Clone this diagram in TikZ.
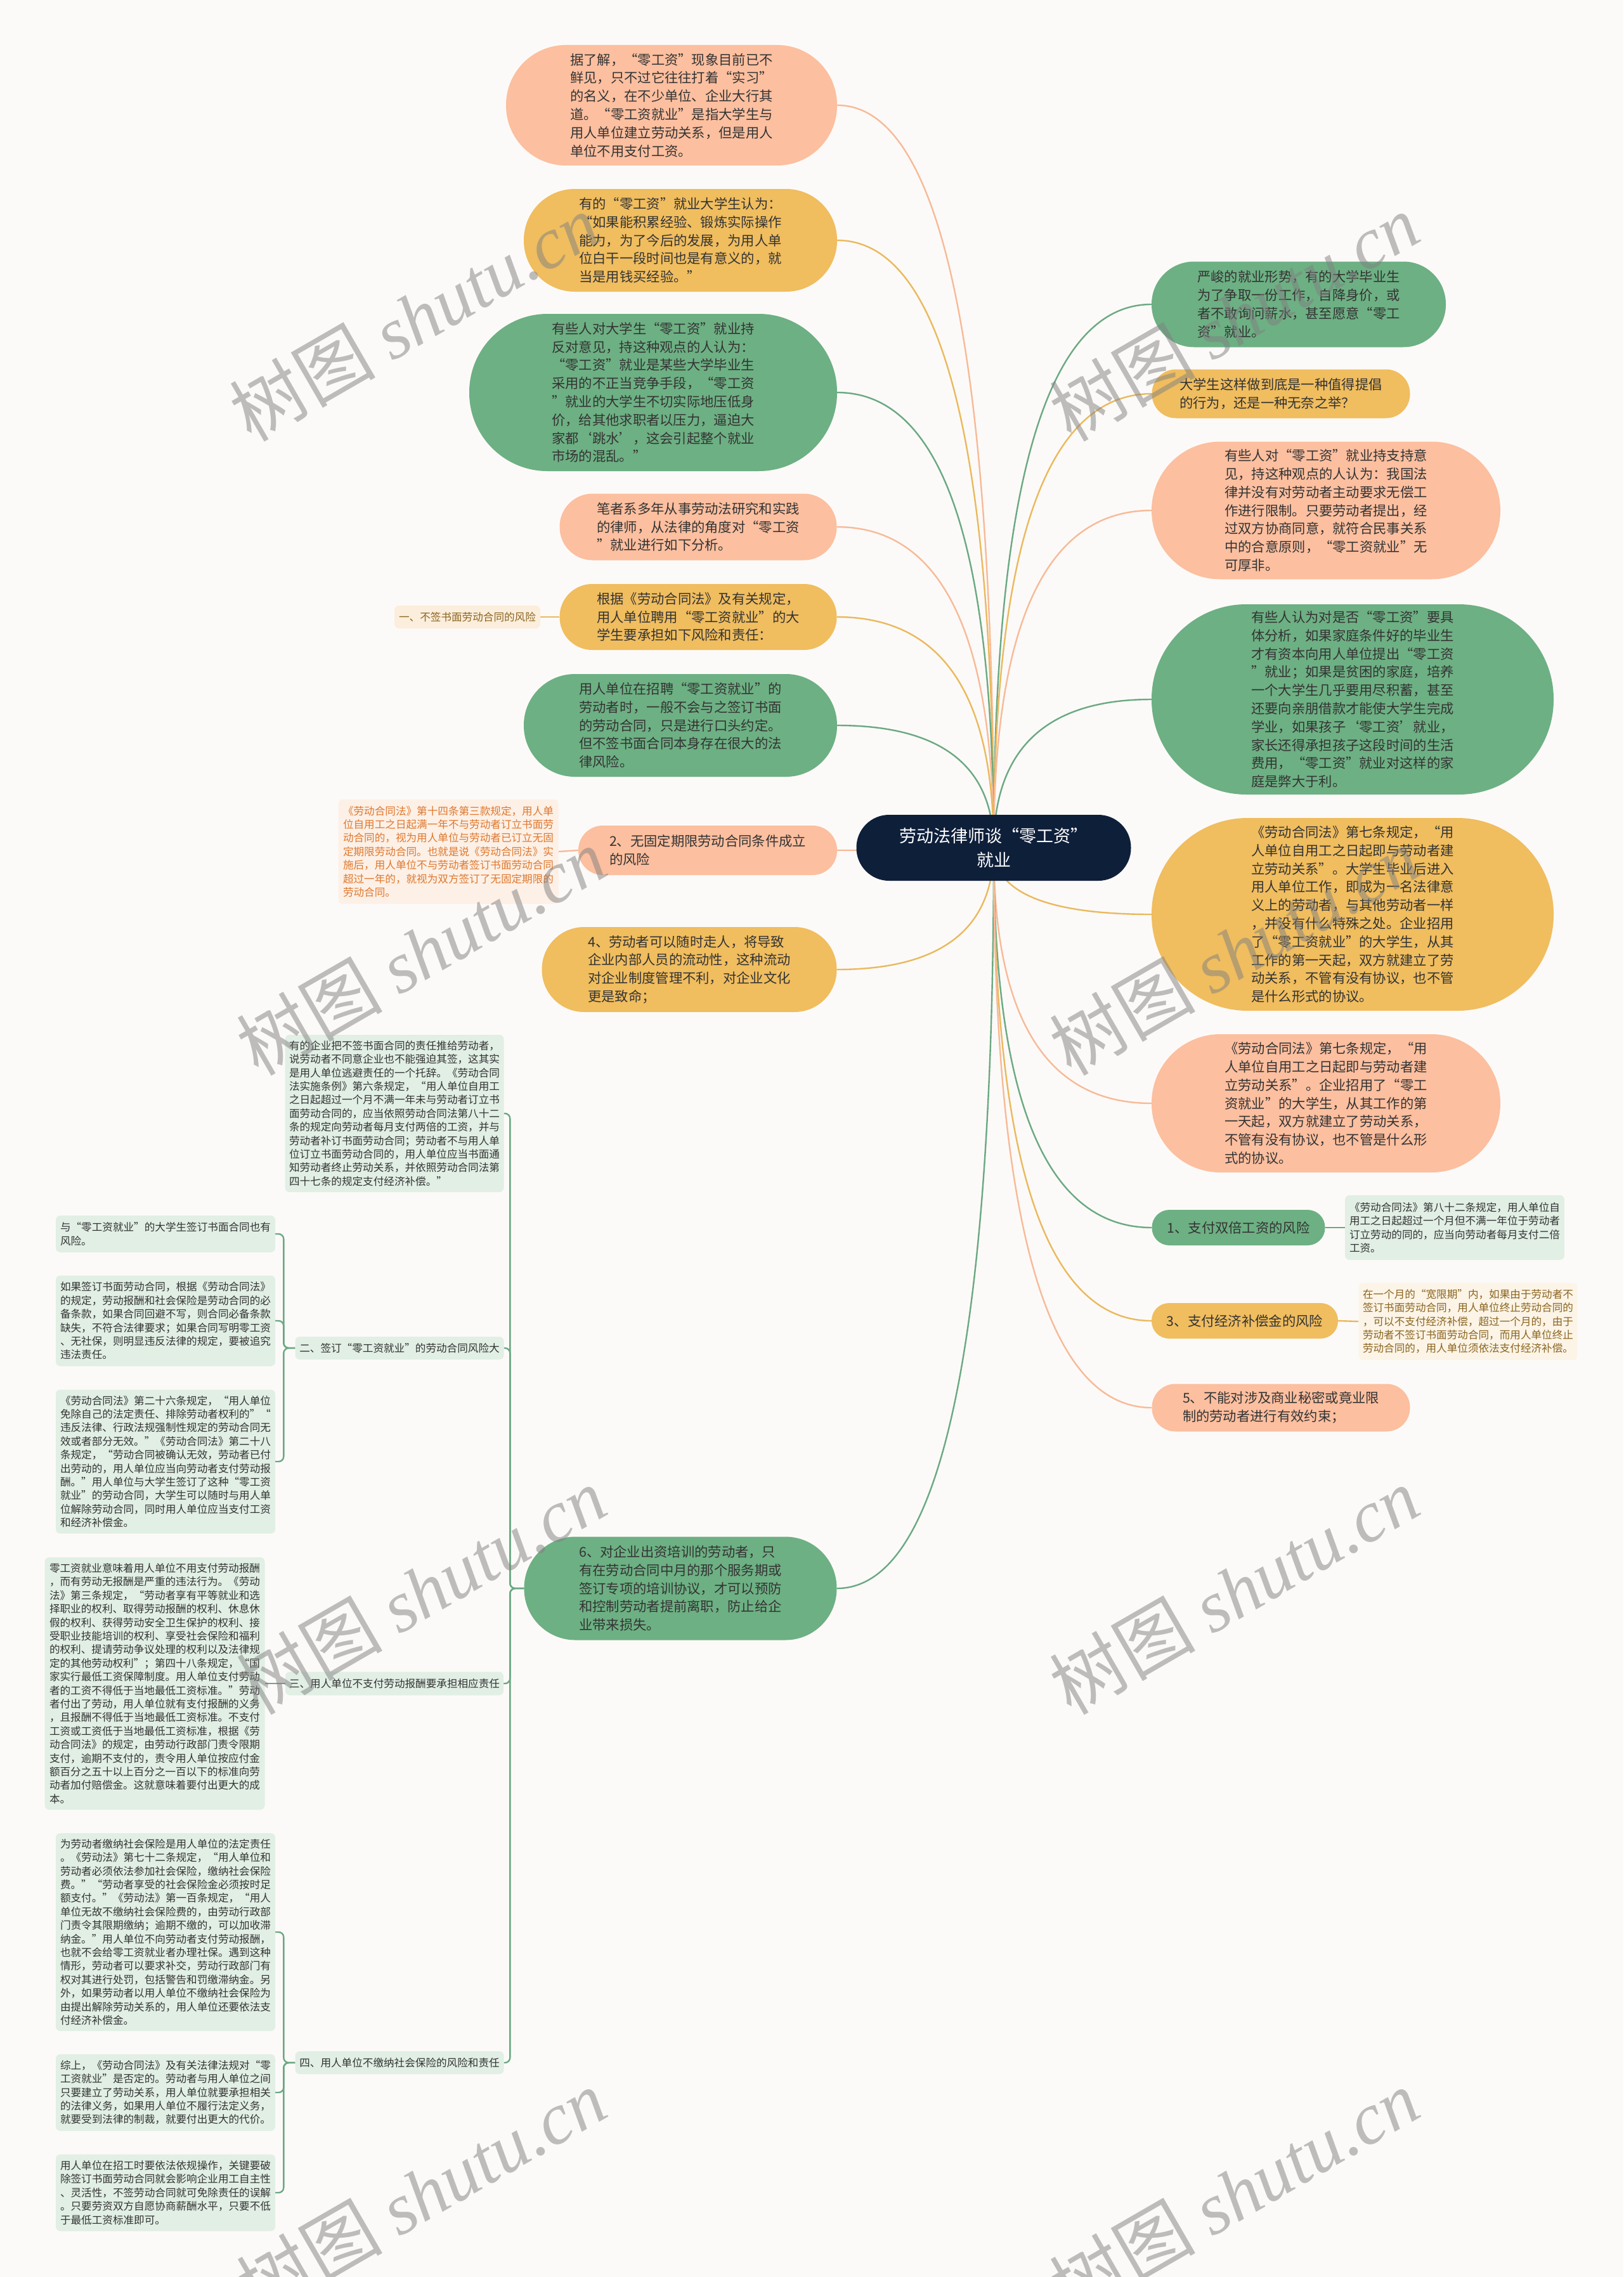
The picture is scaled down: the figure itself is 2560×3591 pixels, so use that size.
\documentclass[tikz,border=0pt]{standalone}
\usepackage{fontspec}
\setmainfont{Noto Sans CJK SC}
\newfontfamily\wmlatin{Liberation Serif}
\usetikzlibrary{calc,backgrounds}

\definecolor{bgpaper}{HTML}{FCFAF8}
\definecolor{salmon}{HTML}{FCBF9F}
\definecolor{mustard}{HTML}{F0BD5F}
\definecolor{sage}{HTML}{6DB083}
\definecolor{navy}{HTML}{0E1F3A}
\definecolor{mint}{HTML}{E1EFE5}
\definecolor{peach}{HTML}{FCEEDC}
\definecolor{blush}{HTML}{FDF0E6}
\definecolor{cream}{HTML}{FCF4E6}
\definecolor{salmonline}{HTML}{F7BA98}
\definecolor{mustardline}{HTML}{EAB95E}
\definecolor{sageline}{HTML}{6AA982}
\definecolor{inkgray}{HTML}{333333}
\definecolor{inkbrown}{HTML}{8A6420}
\definecolor{inkorange}{HTML}{DE782E}

\newcommand\bubblefont{\fontsize{21.3}{28.8}\selectfont}
\newcommand\notefont{\fontsize{16.6}{21.4}\selectfont}
\newcommand\centerfont{\fontsize{27}{38}\selectfont}

\tikzset{
  bubble/.style 2 args={fill=#1, minimum height=#2, rounded corners=#2/2-0.5, inner sep=0pt, align=left, text=inkgray, font=\bubblefont},
  note/.style={fill=#1, rounded corners=7pt, inner sep=0pt, align=left, text=inkgray, font=\notefont},
  link/.style={draw=#1, line width=2.4pt},
  watermark/.style={text=black!50, opacity=0.5, rotate=30, font=\fontsize{115}{115}\selectfont},
}

\begin{document}
\begin{tikzpicture}[x=1pt, y=-1pt]
    \useasboundingbox (0,0) rectangle (2560,3591);

    % Central topic
    \node[fill=navy, text=white, font=\centerfont, align=center, minimum width=433, minimum height=104, rounded corners=51.5pt, inner sep=0pt] (root) at (1567,1337) {劳动法律师谈“零工资”\\就业};

    % Left branches
    \node[bubble={salmon}{190}, minimum width=522] (l1) at (1059,166) {据了解，“零工资”现象目前已不\\鲜见，只不过它往往打着“实习”\\的名义，在不少单位、企业大行其\\道。“零工资就业”是指大学生与\\用人单位建立劳动关系，但是用人\\单位不用支付工资。};
    \node[bubble={mustard}{162}, minimum width=494] (l2) at (1073,379) {有的“零工资”就业大学生认为：\\“如果能积累经验、锻炼实际操作\\能力，为了今后的发展，为用人单\\位白干一段时间也是有意义的，就\\当是用钱买经验。”};
    \node[bubble={sage}{248}, minimum width=580] (l3) at (1030,619) {有些人对大学生“零工资”就业持\\反对意见，持这种观点的人认为：\\“零工资”就业是某些大学毕业生\\采用的不正当竞争手段，“零工资\\”就业的大学生不切实际地压低身\\价，给其他求职者以压力，逼迫大\\家都‘跳水’，这会引起整个就业\\市场的混乱。”};
    \node[bubble={salmon}{105}, minimum width=437] (l4) at (1101,831) {笔者系多年从事劳动法研究和实践\\的律师，从法律的角度对“零工资\\”就业进行如下分析。};
    \node[bubble={mustard}{104}, minimum width=437] (l5) at (1101,973) {根据《劳动合同法》及有关规定，\\用人单位聘用“零工资就业”的大\\学生要承担如下风险和责任：};
    \node[bubble={sage}{162}, minimum width=494] (l6) at (1073,1144) {用人单位在招聘“零工资就业”的\\劳动者时，一般不会与之签订书面\\的劳动合同，只是进行口头约定。\\但不签书面合同本身存在很大的法\\律风险。};
    \node[bubble={salmon}{78}, minimum width=408] (l7) at (1116,1341) {2、无固定期限劳动合同条件成立\\的风险};
    \node[bubble={mustard}{134}, minimum width=465] (l8) at (1087,1529) {4、劳动者可以随时走人，将导致\\企业内部人员的流动性，这种流动\\对企业制度管理不利，对企业文化\\更是致命；};
    \node[bubble={sage}{163}, minimum width=493] (l9) at (1073,2505) {6、对企业出资培训的劳动者，只\\有在劳动合同中月的那个服务期或\\签订专项的培训协议，才可以预防\\和控制劳动者提前离职，防止给企\\业带来损失。};

    % Right branches
    \node[bubble={sage}{135}, minimum width=464] (r1) at (2048,480) {严峻的就业形势，有的大学毕业生\\为了争取一份工作，自降身价，或\\者不敢询问薪水，甚至愿意“零工\\资”就业。};
    \node[bubble={mustard}{77}, minimum width=407] (r2) at (2020,621) {大学生这样做到底是一种值得提倡\\的行为，还是一种无奈之举？};
    \node[bubble={salmon}{217}, minimum width=550] (r3) at (2091,805) {有些人对“零工资”就业持支持意\\见，持这种观点的人认为：我国法\\律并没有对劳动者主动要求无偿工\\作进行限制。只要劳动者提出，经\\过双方协商同意，就符合民事关系\\中的合意原则，“零工资就业”无\\可厚非。};
    \node[bubble={sage}{300}, minimum width=634] (r4) at (2133,1103) {有些人认为对是否“零工资”要具\\体分析，如果家庭条件好的毕业生\\才有资本向用人单位提出“零工资\\”就业；如果是贫困的家庭，培养\\一个大学生几乎要用尽积蓄，甚至\\还要向亲朋借款才能使大学生完成\\学业，如果孩子‘零工资’就业，\\家长还得承担孩子这段时间的生活\\费用，“零工资”就业对这样的家\\庭是弊大于利。};
    \node[bubble={mustard}{304}, minimum width=634] (r5) at (2133,1442) {《劳动合同法》第七条规定，“用\\人单位自用工之日起即与劳动者建\\立劳动关系”。大学生毕业后进入\\用人单位工作，即成为一名法律意\\义上的劳动者，与其他劳动者一样\\，并没有什么特殊之处。企业招用\\了“零工资就业”的大学生，从其\\工作的第一天起，双方就建立了劳\\动关系，不管有没有协议，也不管\\是什么形式的协议。};
    \node[bubble={salmon}{218}, minimum width=550] (r6) at (2091,1740) {《劳动合同法》第七条规定，“用\\人单位自用工之日起即与劳动者建\\立劳动关系”。企业招用了“零工\\资就业”的大学生，从其工作的第\\一天起，双方就建立了劳动关系，\\不管有没有协议，也不管是什么形\\式的协议。};
    \node[bubble={sage}{56}, minimum width=273] (r7) at (1953,1936) {1、支付双倍工资的风险};
    \node[bubble={mustard}{56}, minimum width=294] (r8) at (1963,2083) {3、支付经济补偿金的风险};
    \node[bubble={salmon}{75}, minimum width=407] (r9) at (2020,2220) {5、不能对涉及商业秘密或竟业限\\制的劳动者进行有效约束；};

    % Notes on the left
    \node[note=peach, text=inkbrown, minimum width=230, minimum height=36] (yi) at (737,973) {一、不签书面劳动合同的风险};
    \node[note=blush, text=inkorange, minimum width=347, minimum height=165] (wgd) at (707,1343) {《劳动合同法》第十四条第三款规定，用人单\\位自用工之日起满一年不与劳动者订立书面劳\\动合同的，视为用人单位与劳动者已订立无固\\定期限劳动合同。也就是说《劳动合同法》实\\施后，用人单位不与劳动者签订书面劳动合同\\超过一年的，就视为双方签订了无固定期限的\\劳动合同。};
    \node[note=mint, minimum width=345, minimum height=248] (qiye) at (622,1756) {有的企业把不签书面合同的责任推给劳动者，\\说劳动者不同意企业也不能强迫其签，这其实\\是用人单位逃避责任的一个托辞。《劳动合同\\法实施条例》第六条规定，“用人单位自用工\\之日起超过一个月不满一年未与劳动者订立书\\面劳动合同的，应当依照劳动合同法第八十二\\条的规定向劳动者每月支付两倍的工资，并与\\劳动者补订书面劳动合同；劳动者不与用人单\\位订立书面劳动合同的，用人单位应当书面通\\知劳动者终止劳动关系，并依照劳动合同法第\\四十七条的规定支付经济补偿。”};
    \node[note=mint, minimum width=329, minimum height=36] (er) at (630,2126) {二、签订“零工资就业”的劳动合同风险大};
    \node[note=mint, minimum width=346, minimum height=58] (ea) at (261,1946) {与“零工资就业”的大学生签订书面合同也有\\风险。};
    \node[note=mint, minimum width=346, minimum height=143] (eb) at (261,2083) {如果签订书面劳动合同，根据《劳动合同法》\\的规定，劳动报酬和社会保险是劳动合同的必\\备条款，如果合同回避不写，则合同必备条款\\缺失，不符合法律要求；如果合同写明零工资\\、无社保，则明显违反法律的规定，要被追究\\违法责任。};
    \node[note=mint, minimum width=346, minimum height=227] (ec) at (261,2305) {《劳动合同法》第二十六条规定，“用人单位\\免除自己的法定责任、排除劳动者权利的”“\\违反法律、行政法规强制性规定的劳动合同无\\效或者部分无效。”《劳动合同法》第二十八\\条规定，“劳动合同被确认无效，劳动者已付\\出劳动的，用人单位应当向劳动者支付劳动报\\酬。”用人单位与大学生签订了这种“零工资\\就业”的劳动合同，大学生可以随时与用人单\\位解除劳动合同，同时用人单位应当支付工资\\和经济补偿金。};
    \node[note=mint, minimum width=344, minimum height=37] (san) at (622,2655) {三、用人单位不支付劳动报酬要承担相应责任};
    \node[note=mint, minimum width=347, minimum height=398] (sana) at (244,2655) {零工资就业意味着用人单位不用支付劳动报酬\\，而有劳动无报酬是严重的违法行为。《劳动\\法》第三条规定，“劳动者享有平等就业和选\\择职业的权利、取得劳动报酬的权利、休息休\\假的权利、获得劳动安全卫生保护的权利、接\\受职业技能培训的权利、享受社会保险和福利\\的权利、提请劳动争议处理的权利以及法律规\\定的其他劳动权利”；第四十八条规定，“国\\家实行最低工资保障制度。用人单位支付劳动\\者的工资不得低于当地最低工资标准。”劳动\\者付出了劳动，用人单位就有支付报酬的义务\\，且报酬不得低于当地最低工资标准。不支付\\工资或工资低于当地最低工资标准，根据《劳\\动合同法》的规定，由劳动行政部门责令限期\\支付，逾期不支付的，责令用人单位按应付金\\额百分之五十以上百分之一百以下的标准向劳\\动者加付赔偿金。这就意味着要付出更大的成\\本。};
    \node[note=mint, minimum width=329, minimum height=36] (si) at (630,3253) {四、用人单位不缴纳社会保险的风险和责任};
    \node[note=mint, minimum width=346, minimum height=312] (sa) at (261,3047) {为劳动者缴纳社会保险是用人单位的法定责任\\。《劳动法》第七十二条规定，“用人单位和\\劳动者必须依法参加社会保险，缴纳社会保险\\费。”“劳动者享受的社会保险金必须按时足\\额支付。”《劳动法》第一百条规定，“用人\\单位无故不缴纳社会保险费的，由劳动行政部\\门责令其限期缴纳；逾期不缴的，可以加收滞\\纳金。”用人单位不向劳动者支付劳动报酬，\\也就不会给零工资就业者办理社保。遇到这种\\情形，劳动者可以要求补交，劳动行政部门有\\权对其进行处罚，包括警告和罚缴滞纳金。另\\外，如果劳动者以用人单位不缴纳社会保险为\\由提出解除劳动关系的，用人单位还要依法支\\付经济补偿金。};
    \node[note=mint, minimum width=346, minimum height=121] (sb) at (261,3300) {综上，《劳动合同法》及有关法律法规对“零\\工资就业”是否定的。劳动者与用人单位之间\\只要建立了劳动关系，用人单位就要承担相关\\的法律义务，如果用人单位不履行法定义务，\\就要受到法律的制裁，就要付出更大的代价。};
    \node[note=mint, minimum width=346, minimum height=121] (sc) at (261,3458) {用人单位在招工时要依法依规操作，关键要破\\除签订书面劳动合同就会影响企业用工自主性\\、灵活性，不签劳动合同就可免除责任的误解\\。只要劳资双方自愿协商薪酬水平，只要不低\\于最低工资标准即可。};

    % Notes on the right
    \node[note=mint, minimum width=346, minimum height=102] (r7c) at (2294,1936) {《劳动合同法》第八十二条规定，用人单位自\\用工之日起超过一个月但不满一年位于劳动者\\订立劳动的同的，应当向劳动者每月支付二倍\\工资。};
    \node[note=cream, text=inkbrown, minimum width=345, minimum height=122] (r8c) at (2315,2084) {在一个月的“宽限期”内，如果由于劳动者不\\签订书面劳动合同，用人单位终止劳动合同的\\，可以不支付经济补偿，超过一个月的，由于\\劳动者不签订书面劳动合同，而用人单位终止\\劳动合同的，用人单位须依法支付经济补偿。};

    \begin{scope}[on background layer]
    % Paper
    \fill[bgpaper] (0,0) rectangle (2560,3591);

    % Draw curves from the centre to each branch
    \foreach \n/\c in {l1/salmonline, l2/mustardline, l3/sageline, l4/salmonline, l5/mustardline, l6/sageline, l7/salmonline, l8/mustardline, l9/sageline}
      \draw[link=\c] (root.center) .. controls ($(root.center)!0.667!(root.center |- \n.east)$) and ($(\n.east)!0.667!(root.center |- \n.east)$) .. (\n.east);
    \foreach \n/\c in {r1/sageline, r2/mustardline, r3/salmonline, r4/sageline, r5/mustardline, r6/salmonline, r7/sageline, r8/mustardline, r9/salmonline}
      \draw[link=\c] (root.center) .. controls ($(root.center)!0.667!(root.center |- \n.west)$) and ($(\n.west)!0.667!(root.center |- \n.west)$) .. (\n.west);

    % Draw links to the notes
    \draw[link=mustardline] (l5.west) -- (yi.east);
    \draw[link=salmonline] (l7.west) -- (wgd.east);
    \foreach \n in {qiye, er, san, si}
      \draw[link=sageline, rounded corners=8pt] (l9.west) -- ++(-22,0) |- (\n.east);
    \foreach \n in {ea, eb, ec}
      \draw[link=sageline, rounded corners=8pt] (er.west) -- ++(-18,0) |- (\n.east);
    \draw[link=sageline] (san.west) -- (sana.east);
    \foreach \n in {sa, sb, sc}
      \draw[link=sageline, rounded corners=8pt] (si.west) -- ++(-18,0) |- (\n.east);
    \draw[link=sageline] (r7.east) -- (r7c.west);
    \draw[link=mustardline] (r8.east) -- (r8c.west);
    \end{scope}

    % Watermarks
    \foreach \i/\wx/\wy in {1/653/500, 2/1946/500, 3/664/1500, 4/1946/1500, 5/664/2508, 6/1946/2508, 7/664/3458, 8/1946/3458}
      \node[watermark] (wm\i) at (\wx,\wy) {树图 {\wmlatin\itshape shutu.cn}};

\end{tikzpicture}
\end{document}
